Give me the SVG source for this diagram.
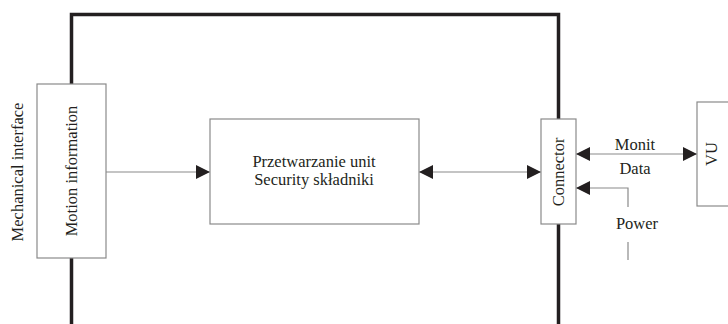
<svg xmlns="http://www.w3.org/2000/svg" width="728" height="324" viewBox="0 0 728 324">
<style>
.frame{fill:none;stroke:#231f20;stroke-width:3.5}
.box{fill:#fff;stroke:#8a8a8a;stroke-width:1.2}
.ln{fill:none;stroke:#8a8a8a;stroke-width:1.2}
text{font-family:"Liberation Serif","DejaVu Serif",serif;font-size:16.5px;fill:#231f20}
</style>
<defs>
<marker id="ah" viewBox="0 0 10 10" refX="10" refY="5" markerWidth="14" markerHeight="14" markerUnits="userSpaceOnUse" orient="auto-start-reverse">
<path d="M0,0 L10,5 L0,10 z" fill="#231f20"/>
</marker>
</defs>
<rect width="728" height="324" fill="#fff"/>
<path class="frame" d="M71.5,324 V14.5 H558.5 V324"/>
<text transform="translate(23,172) rotate(-90)" text-anchor="middle">Mechanical interface</text>
<g id="connectors">
<line class="ln" x1="106" y1="172" x2="210" y2="172" marker-end="url(#ah)"/>
<line class="ln" x1="419" y1="172" x2="541" y2="172" marker-start="url(#ah)" marker-end="url(#ah)"/>
<line class="ln" x1="576" y1="154" x2="697" y2="154" marker-start="url(#ah)" marker-end="url(#ah)"/>
<path class="ln" d="M628,207 V188 H576" marker-end="url(#ah)"/>
<line class="ln" x1="628" y1="242" x2="628" y2="260"/>
<text x="635" y="150" text-anchor="middle">Monit</text>
<text x="635" y="174" text-anchor="middle">Data</text>
<text x="637" y="229" text-anchor="middle">Power</text>
</g>
<g id="motion">
<rect class="box" x="37" y="84" width="69" height="174"/>
<text transform="translate(77,171) rotate(-90)" text-anchor="middle">Motion information</text>
</g>
<g id="processing">
<rect class="box" x="210" y="119" width="209" height="105"/>
<text x="314" y="167" text-anchor="middle">Przetwarzanie unit</text>
<text x="314" y="185" text-anchor="middle">Security składniki</text>
</g>
<g id="connector">
<rect class="box" x="541" y="119" width="35" height="105"/>
<text transform="translate(564,172) rotate(-90)" text-anchor="middle">Connector</text>
</g>
<g id="vu">
<rect class="box" x="697" y="102" width="40" height="104"/>
<text transform="translate(717,154) rotate(-90)" text-anchor="middle">VU</text>
</g>
</svg>
